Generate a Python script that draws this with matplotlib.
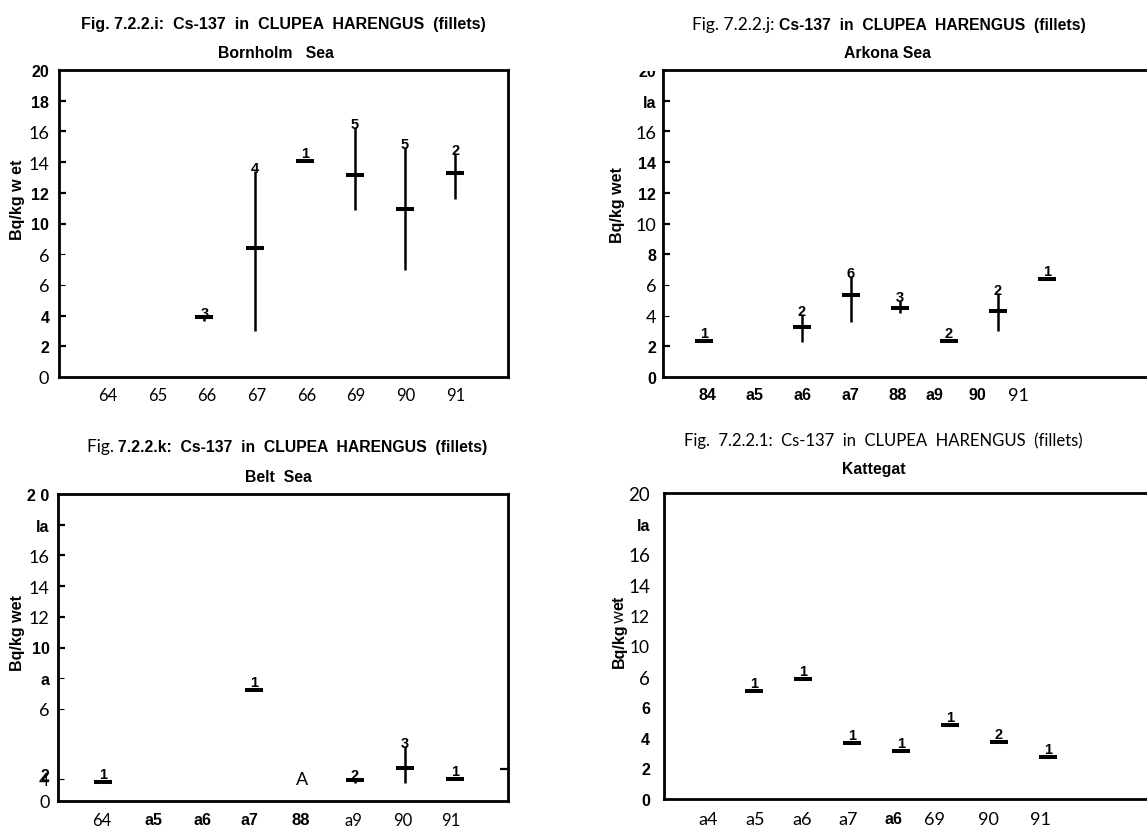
import numpy as np
import matplotlib
matplotlib.use("Agg")
import matplotlib.pyplot as plt
from matplotlib.offsetbox import TextArea, HPacker, AnnotationBbox
from matplotlib.transforms import Bbox, TransformedBbox

# ---------------------------------------------------------------- data
# Cs-137 in herring fillets, Bq/kg wet; yearly mean, min, max and number of samples
bornholm_mean = [np.nan, np.nan, 3.9, 8.4, 14.05, 13.15, 10.95, 13.3]
bornholm_low = [np.nan, np.nan, 3.65, 3.0, 14.05, 10.9, 7.0, 11.6]
bornholm_high = [np.nan, np.nan, 4.0, 13.4, 14.05, 16.3, 15.0, 14.6]
bornholm_n = [0, 0, 3, 4, 1, 5, 5, 2]

arkona_mean = [2.35, np.nan, 3.27, 5.37, 4.5, 2.33, 4.28, 6.4]
arkona_low = [2.35, np.nan, 2.3, 3.6, 4.2, 2.33, 3.0, 6.4]
arkona_high = [2.35, np.nan, 4.1, 6.6, 5.0, 2.33, 5.5, 6.4]
arkona_n = [1, 0, 2, 6, 3, 2, 2, 1]

belt_mean = [1.26, np.nan, np.nan, 7.2, np.nan, 1.35, 2.15, 1.43]
belt_low = [1.26, np.nan, np.nan, 7.2, np.nan, 1.2, 1.2, 1.43]
belt_high = [1.26, np.nan, np.nan, 7.2, np.nan, 1.5, 3.6, 1.43]
belt_n = [1, 0, 0, 1, 0, 2, 3, 1]

kattegat_mean = [np.nan, 7.06, 7.84, 3.66, 3.14, 4.84, 3.73, 2.75]
kattegat_low = [np.nan, 7.06, 7.84, 3.66, 3.14, 4.84, 3.73, 2.75]
kattegat_high = [np.nan, 7.06, 7.84, 3.66, 3.14, 4.84, 3.73, 2.75]
kattegat_n = [0, 1, 1, 1, 1, 1, 2, 1]

bornholm_xlabels = ["64", "65", "66", "67", "66", "69", "90", "91"]
arkona_xlabels = ["84", "a5", "a6", "a7", "88", "a9", "90", "91"]
belt_xlabels = ["64", "a5", "a6", "a7", "88", "a9", "90", "91"]
kattegat_xlabels = ["a4", "a5", "a6", "a7", "a6", "69", "90", "91"]

bornholm_ylabels = ["0", "2", "4", "6", "6", "10", "12", "14", "16", "18", "20"]
arkona_ylabels = ["0", "2", "4", "6", "8", "10", "12", "14", "16", "la", "20"]
belt_ylabels = ["0", "4", "6", "a", "10", "12", "14", "16", "la", "2 0"]
kattegat_ylabels = ["0", "2", "4", "6", "6", "10", "12", "14", "16", "la", "20"]

# ---------------------------------------------------------------- styles
W, H = 1147, 828
BOLD = dict(family=["Liberation Sans", "DejaVu Sans"], weight="bold")
NARROW = dict(family=["Liberation Sans Narrow", "Liberation Sans"], weight="bold")
LIGHT = dict(family=["Lato", "DejaVu Sans"], weight="normal")
CONDENSED = dict(family=["Liberation Sans Narrow", "Lato"], weight="normal")

fig = plt.figure(figsize=(W / 100, H / 100), dpi=100)
fig.patch.set_facecolor("white")


def px_axes(left, top, right, bottom):
    return fig.add_axes([left / W, 1 - bottom / H, (right - left) / W, (bottom - top) / H])


def fx(x):
    return x / W


def fy(y):
    return 1 - y / H


def mixed_line(x, y, pieces):
    """Horizontal line of text made of pieces with their own font styles."""
    areas = [TextArea(s, textprops=dict(color="black", **p)) for s, p in pieces]
    box = HPacker(children=areas, align="baseline", pad=0, sep=0)
    ab = AnnotationBbox(box, (fx(x), fy(y)), xycoords="figure fraction",
                        frameon=False, box_alignment=(0.5, 0.5), pad=0)
    fig.add_artist(ab)


def rotated_pieces(x, y_bottom, pieces):
    """Vertical (bottom to top) text built from pieces with their own styles."""
    renderer = fig.canvas.get_renderer()
    y = y_bottom
    for s, p in pieces:
        t = fig.text(fx(x), fy(y), s, rotation=90, ha="center", va="bottom",
                     rotation_mode="default", **p)
        ext = t.get_window_extent(renderer)
        y -= ext.height


def style_ticklabels(labels, styles, size_b, size_l):
    for lab, st in zip(labels, styles):
        if st == "B":
            lab.set_fontfamily(BOLD["family"]); lab.set_fontweight("bold"); lab.set_fontsize(size_b)
        elif st == "N":
            lab.set_fontfamily(NARROW["family"]); lab.set_fontweight("bold"); lab.set_fontsize(size_b + 0.5)
        elif st == "C":
            lab.set_fontfamily(CONDENSED["family"]); lab.set_fontweight("normal"); lab.set_fontsize(size_l + 1)
        else:
            lab.set_fontfamily(LIGHT["family"]); lab.set_fontweight("normal"); lab.set_fontsize(size_l)


def draw_panel(ax, mean, low, high, n, xlim):
    x = np.arange(len(mean))
    mean = np.asarray(mean, float)
    low = np.asarray(low, float)
    high = np.asarray(high, float)
    ok = ~np.isnan(mean)
    rng = ok & (high - low > 0.05)
    ax.vlines(x[rng], low[rng], high[rng], color="black", lw=1.8, zorder=3)
    ax.plot(x[ok], mean[ok], linestyle="none", marker="_", ms=13, mew=2.9,
            color="black", zorder=4)
    for xi, hi, ni, r in zip(x[ok], high[ok], np.asarray(n)[ok], rng[ok]):
        ax.annotate(str(ni), (xi, hi), xytext=(0, 3 if r else 8),
                    textcoords="offset pixels", ha="center", va="center",
                    fontsize=10.5, **BOLD, zorder=5)
    ax.set_xlim(*xlim)
    ax.set_ylim(0, 20)
    for s in ax.spines.values():
        s.set_linewidth(2.0)
    ax.tick_params(axis="x", length=0, pad=7)
    ax.tick_params(axis="y", which="major", direction="in", length=5, width=1.6,
                   left=True, right=False)


def thin_ticks(ax, idx, on=True):
    ticks = ax.yaxis.get_major_ticks()
    for i in idx:
        if on:
            ticks[i].tick1line.set_markeredgewidth(0.8)
            ticks[i].tick1line.set_markersize(4)
        else:
            ticks[i].tick1line.set_visible(False)


# ---------------------------------------------------------------- Bornholm Sea
ax1 = px_axes(59, 71, 508, 378)
draw_panel(ax1, bornholm_mean, bornholm_low, bornholm_high, bornholm_n, (-0.896, 8.05))
ax1.set_xticks([0.08, 1.08, 2.05, 3.05, 4.04, 5.02, 6.02, 7.0], bornholm_xlabels)
style_ticklabels(ax1.get_xticklabels(), "LLLLLLLL", 11, 12)
ax1.set_yticks(np.arange(0, 21, 2), bornholm_ylabels)
style_ticklabels(ax1.get_yticklabels(), "LBBLLBBLLBB", 11.5, 13)
ax1.tick_params(axis="y", pad=7)
thin_ticks(ax1, [0, 10], on=False)
thin_ticks(ax1, [3, 4])
ax1.set_yticks(np.arange(2, 17, 2), minor=True)
ax1.tick_params(axis="y", which="minor", direction="in", length=6, width=1.4,
                left=False, right=True)

mixed_line(283, 25, [("Fig. 7.2.2.i:  Cs-137  in  CLUPEA  HARENGUS  (fillets)", dict(size=11.5, **BOLD))])
mixed_line(276, 53, [("Bornholm   Sea", dict(size=11.3, **BOLD))])
fig.text(fx(18), fy(200), "Bq/kg w et", rotation=90, ha="center", va="center", fontsize=11.5, **BOLD)

# ---------------------------------------------------------------- Arkona Sea
ax2 = px_axes(663, 71, 1165, 378)
draw_panel(ax2, arkona_mean, arkona_low, arkona_high, arkona_n, (-0.837, 9.41))
ax2.set_xticks([0.06, 1.04, 2.02, 2.98, 3.96, 4.71, 5.57, 6.41], arkona_xlabels)
style_ticklabels(ax2.get_xticklabels(), "BBBBNBBL", 11.5, 13)
ax2.set_yticks(np.arange(0, 21, 2), arkona_ylabels)
style_ticklabels(ax2.get_yticklabels(), "BBLLBLBBLBB", 11.5, 13)
ax2.tick_params(axis="y", pad=5)
thin_ticks(ax2, [0, 10], on=False)
thin_ticks(ax2, [2, 3])
# the top label is cut by the upper edge of the frame
top_lab = ax2.get_yticklabels()[-1]
top_lab.set_clip_box(TransformedBbox(Bbox([[0.5, 0.0], [0.62, fy(72)]]), fig.transFigure))
top_lab.set_clip_on(True)

mixed_line(889, 25, [("Fig. 7.2.2.j: ", dict(size=12.5, **LIGHT)),
                     ("Cs-137  in  CLUPEA  HARENGUS  (fillets)", dict(size=11.3, **BOLD))])
mixed_line(887, 53, [("Arkona Sea", dict(size=11.3, **BOLD))])
fig.text(fx(618), fy(205), "Bq/kg wet", rotation=90, ha="center", va="center", fontsize=11.5, **BOLD)

# ---------------------------------------------------------------- Belt Sea
ax3 = px_axes(58, 495, 508, 802)
draw_panel(ax3, belt_mean, belt_low, belt_high, belt_n, (-0.895, 8.05))
ax3.set_xticks([-0.02, 1.01, 1.97, 2.92, 3.94, 4.97, 5.96, 6.92], belt_xlabels)
style_ticklabels(ax3.get_xticklabels(), "LBBBNLLL", 11.5, 12)
ax3.tick_params(axis="x", pad=8)
ax3.set_yticks([0, 1.45, 6, 8, 10, 12, 14, 16, 18, 20], belt_ylabels)
style_ticklabels(ax3.get_yticklabels(), "LLLBBLLLBB", 11.5, 13)
ax3.tick_params(axis="y", pad=6)
thin_ticks(ax3, [0, 9], on=False)
thin_ticks(ax3, [1, 2, 3])
ax3.set_yticks([2.1], minor=True)
ax3.tick_params(axis="y", which="minor", direction="in", length=6, width=1.6,
                left=False, right=True)
ax3.annotate("2", (0, 1.45), xycoords=ax3.get_yaxis_transform(),
             xytext=(-9, 3), textcoords="offset pixels",
             ha="right", va="center", fontsize=11.5, **BOLD)
ax3.text(3.96, 1.45, "A", ha="center", va="center", fontsize=13, **LIGHT)

mixed_line(287, 447, [("Fig. ", dict(size=12.5, **LIGHT)),
                      ("7.2.2.k:  Cs-137  in  CLUPEA  HARENGUS  (fillets)", dict(size=11.3, **BOLD))])
mixed_line(278, 478, [("Belt  Sea", dict(size=11.3, **BOLD))])
fig.text(fx(18), fy(633), "Bq/kg wet", rotation=90, ha="center", va="center", fontsize=11.5, **BOLD)

# ---------------------------------------------------------------- Kattegat
ax4 = px_axes(664, 494, 1165, 800)
draw_panel(ax4, kattegat_mean, kattegat_low, kattegat_high, kattegat_n, (-0.837, 9.39))
ax4.set_xticks([0.06, 1.02, 1.98, 2.92, 3.84, 4.69, 5.78, 6.84], kattegat_xlabels)
style_ticklabels(ax4.get_xticklabels(), "LLLLBLLL", 11.5, 13)
ax4.tick_params(axis="x", pad=9)
ax4.set_yticks(np.arange(0, 21, 2), kattegat_ylabels)
style_ticklabels(ax4.get_yticklabels(), "BBBBCLLCCBC", 11.5, 12.5)
ax4.tick_params(axis="y", length=0, pad=10)

mixed_line(883, 441, [("Fig.  7.2.2.1:  Cs-137  in  CLUPEA  HARENGUS  (fillets)", dict(size=12, **LIGHT))])
mixed_line(874, 470, [("Kattegat", dict(size=11.3, **BOLD))])
rotated_pieces(619, 668, [("Bq/kg", dict(fontsize=11.5, **BOLD)),
                          ("w", dict(fontsize=12, **LIGHT)),
                          ("et", dict(fontsize=11.5, **BOLD))])

fig.savefig("out.png", dpi=100, facecolor="white")
